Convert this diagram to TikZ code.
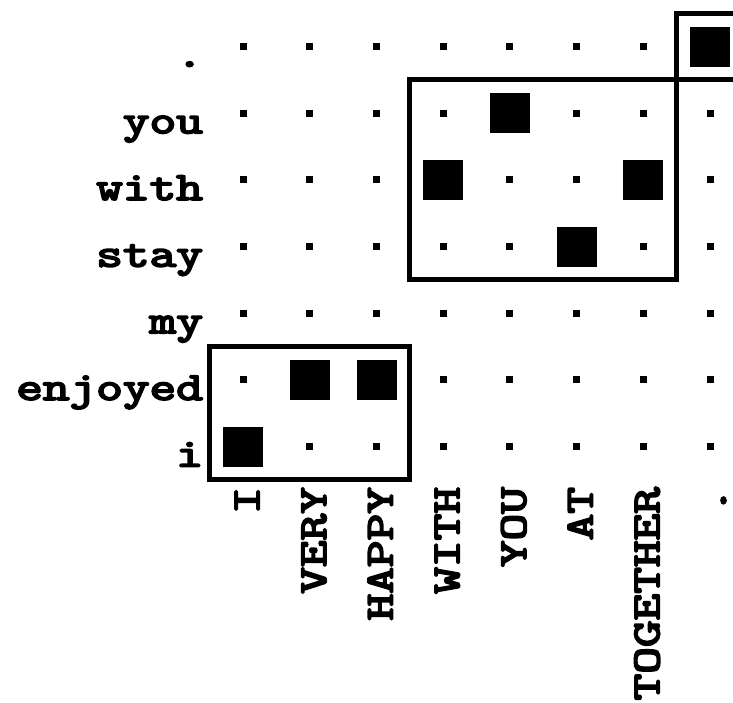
\documentclass[tikz,border=0pt]{standalone}
\usepackage{graphicx}
\usepackage{fontspec}
\newfontfamily\wordfont{lmmono10-regular}[Extension=.otf, FakeBold=4]
\usepackage{tikz}
\usetikzlibrary{positioning}

\tikzset{
  cellbox/.style={minimum size=33.333pt, inner sep=0pt, outer sep=0pt},
  smallmark/.style={fill=black, minimum size=3.5pt, inner sep=0pt},
  bigmark/.style={fill=black, minimum size=20pt, inner sep=0pt},
  boxline/.style={line width=2.5pt},
  wordlab/.style={inner sep=0pt, font=\wordfont\fontsize{20}{20}\selectfont},
}
\newcommand{\widelab}[1]{\scalebox{1.27}[1]{#1}}

\begin{document}
\begin{tikzpicture}[x=33.333pt, y=33.333pt]
\useasboundingbox (-3.65,-3.845) rectangle (7.345,6.7);
% cells of the matrix
\foreach \r in {0,...,6}
  \foreach \c in {0,...,7}
    \node[cellbox] (cell-\r-\c) at (\c,\r) {};
\foreach \r in {0,...,6}
  \foreach \c in {0,...,7}
    \node[smallmark] (dot-\r-\c) at (cell-\r-\c) {};
% aligned pairs
\foreach \r/\c in {6/7, 5/4, 4/3, 4/6, 3/5, 1/1, 1/2, 0/0}
  \node[bigmark] (hit-\r-\c) at (cell-\r-\c) {};
% phrase blocks
\draw[boxline] (cell-3-3.south west) rectangle (cell-5-6.north east);
\draw[boxline] (cell-6-7.south west) rectangle (cell-6-7.north east);
\draw[boxline] (cell-0-0.south west) rectangle (cell-1-2.north east);
% source words
\foreach \r/\w in {0/i, 1/enjoyed, 2/my, 3/stay, 4/with, 5/you, 6/.}
  \node[wordlab, anchor=base east] (row-\r) at (-0.6,\r-0.3) {\widelab{\w}};
% target words
\foreach \c/\w in {0/I, 1/VERY, 2/HAPPY, 3/WITH, 4/YOU, 5/AT, 6/TOGETHER, 7/.}
  \node[wordlab, rotate=90, anchor=base east] (col-\c) at (\c+0.24,-0.6) {\widelab{\w}};
\end{tikzpicture}
\end{document}
